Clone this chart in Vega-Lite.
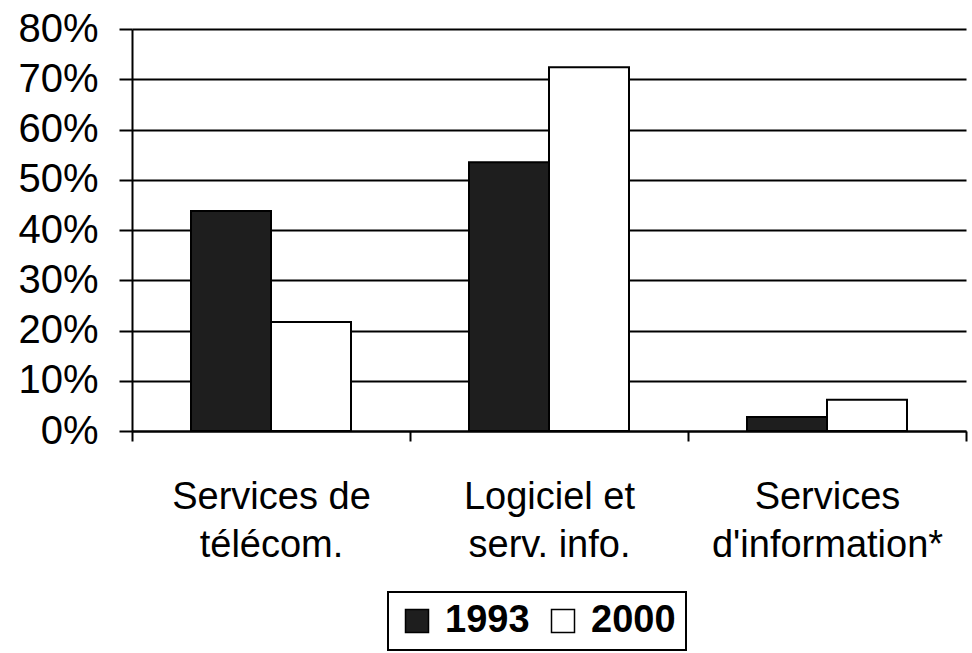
{
  "$schema": "https://vega.github.io/schema/vega-lite/v6.json",
  "width": 834,
  "height": 402,
  "autosize": {"type": "none"},
  "padding": {"left": 132, "top": 29, "right": 6, "bottom": 222},
  "background": "white",
  "config": {
    "view": {"stroke": null},
    "font": "Liberation Sans",
    "legend": {"strokeWidth": 2}
  },
  "data": {
    "values": [
      {"categorie": "Services de télécom.", "annee": "1993", "part": 0.438},
      {"categorie": "Services de télécom.", "annee": "2000", "part": 0.217},
      {"categorie": "Logiciel et serv. info.", "annee": "1993", "part": 0.535},
      {"categorie": "Logiciel et serv. info.", "annee": "2000", "part": 0.724},
      {"categorie": "Services d'information*", "annee": "1993", "part": 0.028},
      {"categorie": "Services d'information*", "annee": "2000", "part": 0.062}
    ]
  },
  "mark": {"type": "bar", "stroke": "black", "strokeWidth": 2},
  "encoding": {
    "x": {
      "field": "categorie",
      "type": "nominal",
      "sort": null,
      "title": null,
      "scale": {"paddingInner": 0, "paddingOuter": 0},
      "axis": {
        "labelAngle": 0,
        "labelFontSize": 38,
        "labelColor": "black",
        "labelLineHeight": 48,
        "labelPadding": 37,
        "labelLimit": 0,
        "labelOverlap": false,
        "labelExpr": "datum.label == 'Services de télécom.' ? ['Services de', 'télécom.'] : datum.label == 'Logiciel et serv. info.' ? ['Logiciel et', 'serv. info.'] : test(/information/, datum.label) ? ['Services', slice(datum.label, 9)] : ''",
        "tickBand": "extent",
        "tickSize": 10,
        "tickColor": "black",
        "tickWidth": 2,
        "domainColor": "black",
        "domainWidth": 2,
        "grid": false
      }
    },
    "xOffset": {
      "field": "annee",
      "type": "nominal",
      "scale": {"paddingInner": 0, "paddingOuter": 0.7375}
    },
    "y": {
      "field": "part",
      "type": "quantitative",
      "title": null,
      "scale": {"domain": [0, 0.8], "nice": false},
      "axis": {
        "values": [0, 0.1, 0.2, 0.3, 0.4, 0.5, 0.6, 0.7, 0.8],
        "format": ".0%",
        "labelFontSize": 40,
        "labelColor": "black",
        "labelPadding": 21,
        "tickSize": 13,
        "tickColor": "black",
        "tickWidth": 2,
        "domainColor": "black",
        "domainWidth": 2,
        "grid": true,
        "gridColor": "black",
        "gridWidth": 2,
        "gridOpacity": 1
      }
    },
    "fill": {
      "field": "annee",
      "type": "nominal",
      "scale": {"domain": ["1993", "2000"], "range": ["#1e1e1e", "#ffffff"]},
      "legend": {
        "title": null,
        "orient": "none",
        "legendX": 256,
        "legendY": 563,
        "direction": "horizontal",
        "symbolType": "square",
        "symbolSize": 529,
        "symbolStrokeColor": "black",
        "symbolStrokeWidth": 1.5,
        "labelFontSize": 38,
        "labelFontWeight": "bold",
        "labelColor": "black",
        "labelOffset": 9,
        "columnPadding": 14,
        "strokeColor": "black",
        "padding": 10,
        "fillColor": "white"
      }
    }
  }
}
